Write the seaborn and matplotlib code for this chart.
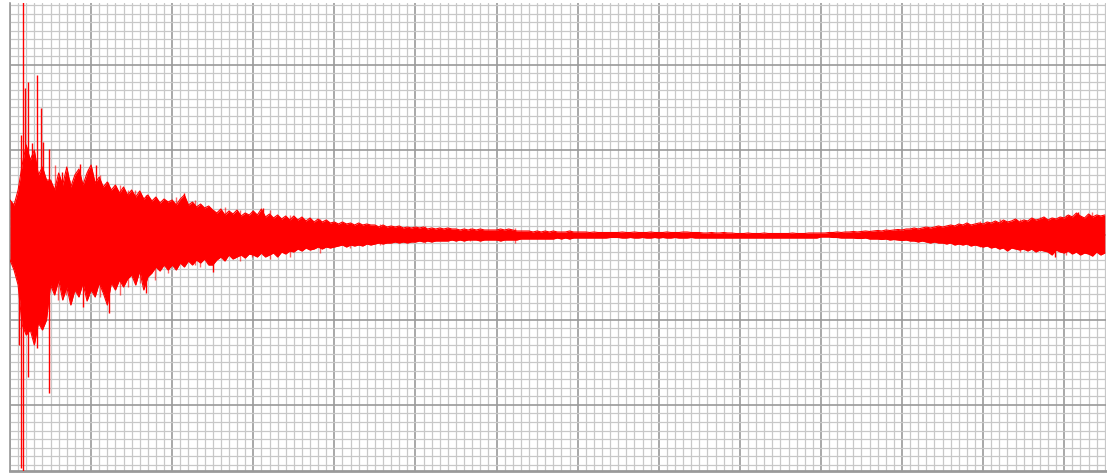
import matplotlib
matplotlib.use("Agg")
import matplotlib.pyplot as plt
import seaborn as sns
import pandas as pd
from matplotlib.ticker import MultipleLocator

# sample index of each envelope reading
sample = list(range(271))

# upper envelope of the waveform (amplitude units)
env_hi = [
    35, 30, 45, 70, 90, 75, 85, 60, 68, 55,
    55, 45, 62, 50, 68, 48, 60, 66, 50, 62,
    70, 52, 58, 48, 53, 45, 50, 42, 48, 40,
    45, 38, 44, 36, 40, 34, 38, 32, 36, 33,
    35, 30, 36, 40, 30, 33, 28, 31, 27, 29,
    25, 22, 26, 20, 24, 21, 25, 19, 22, 20,
    24, 20, 26, 18, 21, 17, 20, 16, 19, 15,
    19, 15, 18, 14, 17, 13, 16, 13, 15, 12,
    13, 11, 13, 11, 12, 10, 12, 10, 11, 10,
    10, 8, 10, 8, 9, 8, 9, 7, 8, 7,
    8, 7, 8, 6, 7, 6, 7, 6, 7, 6,
    6, 5, 6, 5, 6, 5, 6, 5, 5, 5,
    5, 6, 5, 6, 5, 4, 4, 4, 4, 3,
    4, 3, 4, 3, 4, 3, 3, 3, 4, 3,
    3, 3, 3, 2.5, 3, 2.5, 2.5, 2.5, 2.5, 2.5,
    2.5, 3, 2.5, 2.5, 3, 2.5, 2.5, 2.5, 3, 2.5,
    2.5, 2.5, 3, 2.5, 2.5, 2.5, 3, 3, 2.5, 2.5,
    2.5, 2, 2, 2.5, 2, 2, 2.5, 2, 2, 1.5,
    1.5, 1.5, 2, 1.5, 1.5, 1.5, 2, 1.5, 1.5, 1.5,
    1.5, 1.5, 1.5, 2, 1.5, 1.5, 1.5, 2, 2, 2,
    2, 2, 2.5, 2.5, 3, 2.5, 3, 3, 3.5, 3,
    3.5, 4, 3.5, 4, 4.5, 4, 5, 4.5, 5, 5.5,
    5, 6, 6, 7, 6, 7, 8, 7, 8, 9,
    8, 9, 10, 9, 11, 10, 12, 10, 11, 12,
    11, 13, 12, 14, 12, 15, 13, 14, 16, 13,
    15, 14, 17, 15, 16, 18, 15, 17, 16, 18,
    17, 20, 18, 22, 19, 17, 21, 18, 20, 19, 20,
]

# lower envelope of the waveform (amplitude units)
env_lo = [
    -25, -35, -50, -90, -100, -95, -110, -88, -95, -85,
    -50, -60, -45, -65, -52, -70, -55, -62, -48, -66,
    -55, -62, -48, -58, -70, -48, -55, -45, -52, -44,
    -40, -50, -36, -55, -42, -38, -32, -36, -30, -35,
    -30, -35, -28, -32, -26, -30, -25, -28, -24, -30,
    -30, -25, -22, -26, -20, -24, -22, -20, -23, -19,
    -20, -22, -18, -22, -20, -18, -22, -17, -19, -16,
    -17, -14, -16, -13, -15, -14, -12, -14, -12, -13,
    -12, -11, -10, -12, -10, -11, -10, -11, -9, -10,
    -9, -8, -9, -8, -8, -7, -8, -7, -8, -7,
    -7, -6, -7, -6, -7, -6, -6, -6, -6, -5,
    -6, -5, -6, -5, -5, -5, -6, -5, -5, -5,
    -5, -6, -5, -5, -5, -5, -4, -4, -4, -4,
    -4, -4, -4, -4, -4, -3, -4, -3, -4, -3,
    -3, -3, -3, -3, -3, -3, -3, -3, -2.5, -2.5,
    -2.5, -3, -3, -2.5, -3, -3, -2.5, -3, -3, -2.5,
    -3, -2.5, -3, -3, -2.5, -3, -3, -3, -2.5, -3,
    -3, -3, -3, -3, -3, -3, -3, -3, -3, -3,
    -3, -3, -3, -3, -3, -3, -3, -3, -3, -3,
    -3, -3, -3, -3, -3, -3, -3, -3, -3, -3,
    -2, -2, -2, -2.5, -2.5, -3, -3, -3, -3, -3.5,
    -3.5, -3, -4, -4, -4, -4.5, -4, -5, -4.5, -5,
    -5.5, -5, -6, -6, -7, -6, -7, -8, -7, -8,
    -8, -9, -8, -10, -9, -10, -9, -11, -10, -11,
    -12, -11, -13, -12, -14, -13, -16, -13, -14, -15,
    -14, -16, -14, -17, -15, -16, -17, -20, -15, -17,
    -18, -16, -19, -17, -20, -18, -19, -21, -17, -20, -18,
]

# isolated tall spikes
spike_x = [2.2, 2.64, 3.28, 3.58, 4.51, 5.43, 6.73, 7.64, 8.14, 9.69,
           12.8, 17.3, 18.0, 21.2, 24.4, 33.5, 42.9, 50.1, 62.4, 257.7, 263.4]
spike_top = [50, 100, 240, 147, 153, 92, 160, 127, 93, 86,
             63, 71, 50, 70, 45, 40, 42, 25, 27, 15, 23]
spike_bot = [-110, -233, -240, -60, -142, -95, -113, -80, -90, -158,
             -40, -50, -72, -50, -78, -58, -30, -37, -20, -22, -18]

# fainter secondary spikes
faint_x = [11.1, 11.8, 13.8, 14.8, 19.2, 22.2, 24.2, 27.1, 29.1, 30.8,
           32.1, 35.8, 39.0, 40.9, 45.6, 46.9, 53.0, 56.7, 59.7, 64.1,
           69.1, 76.4, 83.8, 91.2, 102.3, 113.4, 124.5,
           239.2, 244.1, 249.1, 254.0, 260.4, 266.8]
faint_top = [70, 50, 60, 55, 66, 60, 53, 50, 45, 45,
             43, 38, 32, 38, 35, 28, 28, 25, 24, 25,
             20, 16, 12, 11, 9, 7, 7,
             14, 16, 16, 18, 20, 23]
faint_bot = [-45, -65, -60, -68, -55, -62, -50, -60, -52, -42,
             -48, -45, -38, -33, -30, -32, -25, -26, -22, -24,
             -22, -18, -13, -10, -8, -6, -8,
             -12, -14, -17, -16, -20, -21]

sns.set_style("white")
fig = plt.figure(figsize=(11.07, 4.73), dpi=100)
ax = fig.add_axes([10 / 1107, 2 / 473, 1096 / 1107, 468 / 473])

red = "#ff0000"
ax.fill_between(sample, env_lo, env_hi, color=red, lw=0, zorder=3)
df = pd.DataFrame({"sample": sample, "hi": env_hi, "lo": env_lo})
sns.lineplot(data=df, x="sample", y="hi", color=red, lw=0.8, ax=ax, zorder=3)
sns.lineplot(data=df, x="sample", y="lo", color=red, lw=0.8, ax=ax, zorder=3)
ax.vlines(spike_x, spike_bot, spike_top, color=red, lw=1.0, zorder=3)
ax.vlines(faint_x, faint_bot, faint_top, color=red, lw=1.0, alpha=0.6, zorder=3)

ax.set_xlim(0, 270.3)
ax.set_ylim(-236, 232)
ax.xaxis.set_major_locator(MultipleLocator(20))
ax.xaxis.set_minor_locator(MultipleLocator(2))
ax.yaxis.set_major_locator(MultipleLocator(85))
ax.yaxis.set_minor_locator(MultipleLocator(8.5))
ax.set_axisbelow(True)
ax.grid(which="major", color="#9a9a9a", lw=1.2)
ax.grid(which="minor", color="#c8c8c8", lw=0.9)
ax.tick_params(which="both", length=0, labelbottom=False, labelleft=False)
ax.set_xlabel("")
ax.set_ylabel("")
for s in ["top", "right"]:
    ax.spines[s].set_visible(False)
ax.spines["left"].set_color("#9a9a9a")
ax.spines["left"].set_linewidth(1.2)
ax.spines["bottom"].set_color("#999999")
ax.spines["bottom"].set_linewidth(2)

fig.savefig("out.png", dpi=100)
